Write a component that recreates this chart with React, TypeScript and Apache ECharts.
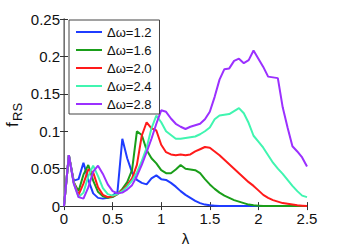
import React, { useEffect, useRef } from "react";
import * as echarts from "echarts";

const lambda = [
  0, 0.05, 0.1, 0.15, 0.2, 0.25, 0.3, 0.35, 0.4, 0.45, 0.5, 0.55, 0.6, 0.65, 0.7, 0.75, 0.8, 0.85, 0.9, 0.95,
  1.0, 1.05, 1.1, 1.15, 1.2, 1.25, 1.3, 1.35, 1.4, 1.45, 1.5, 1.55, 1.6, 1.65, 1.7, 1.75, 1.8, 1.85, 1.9, 1.95,
  2.0, 2.05, 2.1, 2.15, 2.2, 2.25, 2.3, 2.35, 2.4, 2.45, 2.5,
];

const seriesNames = ["Δω=1.2", "Δω=1.6", "Δω=2.0", "Δω=2.4", "Δω=2.8"];
const seriesColors = ["#1f3cff", "#1a9e1a", "#ff1a1a", "#40f5b0", "#9b30ff"];

const dw12 = [
  0, 0.068, 0.034, 0.036, 0.058, 0.035, 0.017, 0.011, 0.01, 0.011, 0.014, 0.019, 0.09, 0.064, 0.045, 0.035, 0.031, 0.029, 0.037, 0.041,
  0.036, 0.035, 0.031, 0.026, 0.02, 0.015, 0.011, 0.007, 0.004, 0.002, 0.001, 0.0005, 0, 0, 0, 0, 0, 0, 0, 0,
  0, 0, 0, 0, 0, 0, 0, 0, 0, 0, 0,
];
const dw16 = [
  0, 0.068, 0.032, 0.02, 0.042, 0.055, 0.034, 0.019, 0.013, 0.011, 0.012, 0.016, 0.023, 0.032, 0.048, 0.1, 0.095, 0.075, 0.064, 0.057,
  0.048, 0.044, 0.044, 0.049, 0.055, 0.05, 0.049, 0.048, 0.044, 0.036, 0.029, 0.023, 0.018, 0.014, 0.011, 0.008, 0.006, 0.004, 0.002, 0.001,
  0.0005, 0, 0, 0, 0, 0, 0, 0, 0, 0, 0,
];
const dw20 = [
  0, 0.068, 0.032, 0.015, 0.03, 0.049, 0.045, 0.025, 0.015, 0.012, 0.013, 0.016, 0.021, 0.028, 0.037, 0.055, 0.094, 0.112, 0.104, 0.101,
  0.082, 0.072, 0.069, 0.068, 0.069, 0.068, 0.069, 0.073, 0.076, 0.079, 0.078, 0.073, 0.068, 0.062, 0.056, 0.05, 0.044, 0.038, 0.032, 0.027,
  0.021, 0.015, 0.011, 0.008, 0.006, 0.004, 0.003, 0.002, 0.001, 0.0005, 0,
];
const dw24 = [
  0, 0.068, 0.031, 0.012, 0.018, 0.04, 0.054, 0.04, 0.024, 0.016, 0.014, 0.016, 0.02, 0.026, 0.034, 0.045, 0.06, 0.078, 0.104, 0.121,
  0.112, 0.1, 0.095, 0.09, 0.09, 0.091, 0.092, 0.093, 0.096, 0.1, 0.105, 0.116, 0.121, 0.122, 0.123, 0.127, 0.131, 0.124, 0.111, 0.094,
  0.086, 0.078, 0.068, 0.058, 0.05, 0.043, 0.035, 0.027, 0.02, 0.014, 0.012,
];
const dw28 = [
  0, 0.068, 0.03, 0.012, 0.01, 0.025, 0.046, 0.054, 0.043, 0.029, 0.02, 0.017, 0.018, 0.022, 0.028, 0.04, 0.055, 0.072, 0.09, 0.11,
  0.128, 0.126, 0.117, 0.11, 0.106, 0.103, 0.106, 0.108, 0.11, 0.116, 0.126, 0.146, 0.169, 0.183, 0.184, 0.194, 0.197, 0.191, 0.195, 0.208,
  0.197, 0.186, 0.173, 0.172, 0.171, 0.132, 0.105, 0.08, 0.073, 0.065, 0.053,
];

const seriesValues = [dw12, dw16, dw20, dw24, dw28];

export default function App() {
  const ref = useRef<HTMLDivElement>(null);
  useEffect(() => {
    if (!ref.current) return;
    const chart = echarts.init(ref.current, null, { renderer: "svg" });
    const font = "Liberation Sans, Arial, Helvetica, sans-serif";
    const axisCommon = {
      min: 0,
      axisLine: { show: true, lineStyle: { color: "#333", width: 1 } },
      splitLine: { show: false },
    };
    chart.setOption({
      animation: false,
      backgroundColor: "#fff",
      grid: { left: 64, right: 32, top: 19, bottom: 38, containLabel: false },
      xAxis: [
        {
          ...axisCommon,
          type: "value",
          max: 2.5,
          interval: 0.5,
          position: "bottom",
          name: "λ",
          nameLocation: "middle",
          nameGap: 22,
          nameTextStyle: { fontFamily: font, fontSize: 15, color: "#111" },
          axisTick: { show: true, inside: true, length: 4, lineStyle: { color: "#333" } },
          axisLabel: { fontFamily: font, fontSize: 15, color: "#111", margin: 5 },
        },
        {
          ...axisCommon,
          type: "value",
          max: 2.5,
          interval: 0.5,
          position: "top",
          axisTick: { show: true, inside: true, length: 4, lineStyle: { color: "#333" } },
          axisLabel: { show: false },
        },
      ],
      yAxis: [
        {
          ...axisCommon,
          type: "value",
          max: 0.25,
          interval: 0.05,
          position: "left",
          axisTick: { show: true, inside: true, length: 4, lineStyle: { color: "#333" } },
          axisLabel: { fontFamily: font, fontSize: 15, color: "#111", margin: 4 },
        },
        {
          ...axisCommon,
          type: "value",
          max: 0.25,
          interval: 0.05,
          position: "right",
          axisLine: { show: true, lineStyle: { color: "#888", width: 1.5 } },
          axisTick: { show: true, inside: true, length: 4, lineStyle: { color: "#333" } },
          axisLabel: { show: false },
        },
      ],
      legend: {
        orient: "vertical",
        left: 69,
        top: 20,
        icon: "rect",
        itemWidth: 26,
        itemHeight: 2,
        itemGap: 4,
        padding: [5, 8, 3, 7],
        borderColor: "#444",
        borderWidth: 1,
        backgroundColor: "#fff",
        textStyle: { fontFamily: font, fontSize: 13, color: "#111", lineHeight: 14, height: 14 },
        data: seriesNames,
      },
      graphic: [
        {
          type: "group",
          x: 12,
          y: 127,
          rotation: Math.PI / 2,
          children: [
            {
              type: "text",
              x: 0,
              y: 0,
              style: { text: "f", fontFamily: font, fontSize: 17, fill: "#111", textAlign: "left", textVerticalAlign: "middle" },
            },
            {
              type: "text",
              x: 6,
              y: 5,
              style: { text: "RS", fontFamily: font, fontSize: 13, fill: "#111", textAlign: "left", textVerticalAlign: "middle" },
            },
          ],
        },
      ],
      series: seriesNames.map((name, i) => ({
        name,
        type: "line",
        xAxisIndex: 0,
        yAxisIndex: 0,
        symbol: "none",
        showSymbol: false,
        color: seriesColors[i],
        lineStyle: { width: 2, color: seriesColors[i] },
        data: lambda.map((x, j) => [x, seriesValues[i][j]]),
      })),
    });
    return () => chart.dispose();
  }, []);
  return <div ref={ref} style={{ position: "fixed", left: 0, top: 0, width: 339, height: 251 }} />;
}
